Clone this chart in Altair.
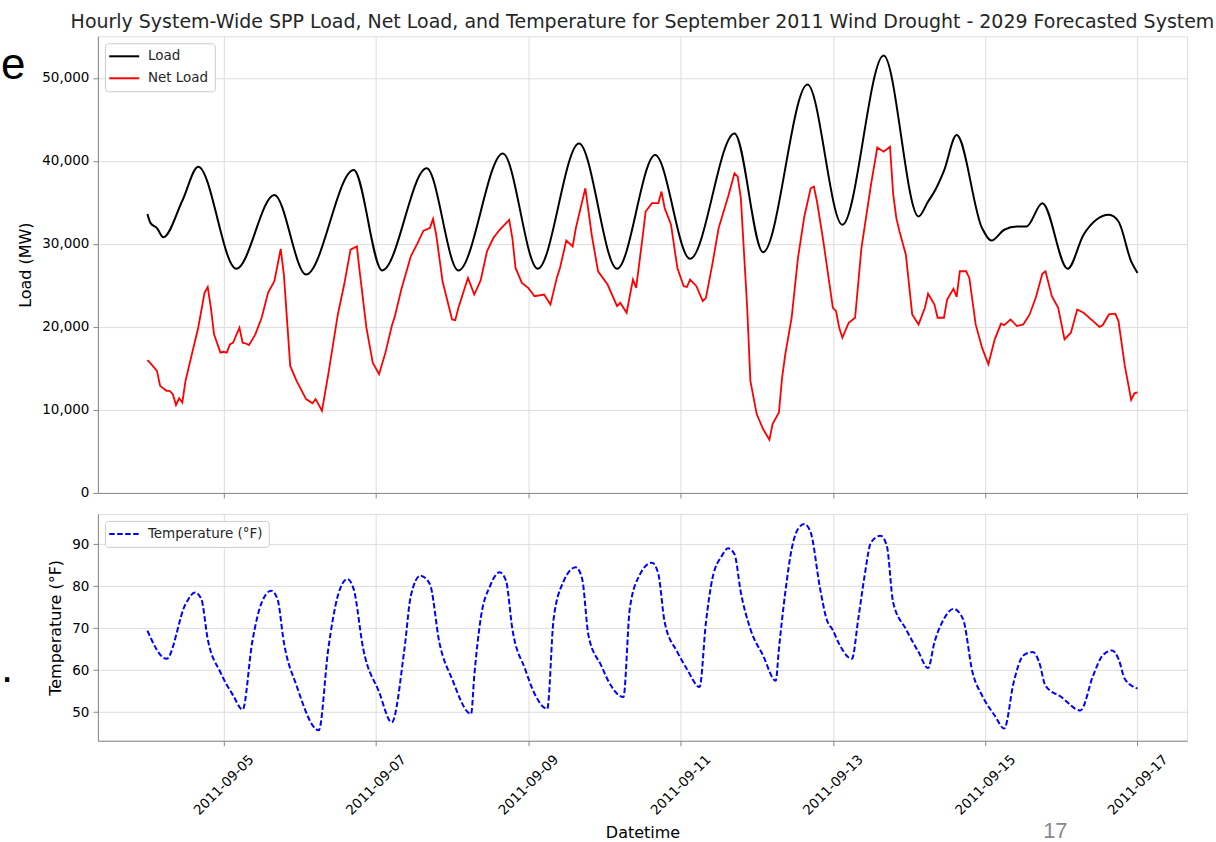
import altair as alt
import pandas as pd

START = pd.Timestamp("2011-09-04 00:00")

# Hourly readings: hours after 2011-09-04 00:00 and the value at that hour
load_hours = [0, 1, 3, 5, 11, 16, 28, 40, 50, 65, 74, 88, 98, 112, 123, 136, 148, 160,
              171, 185, 194, 208, 219, 232, 243, 246, 248, 251, 255, 263, 266, 270, 274,
              277, 282, 290, 295, 299, 303, 306, 310, 312]
load_mw = [33600, 32500, 31900, 30800, 35200, 39300, 27000, 35900, 26300, 38900, 26800,
           39100, 26800, 40900, 27000, 42100, 27000, 40700, 28200, 43300, 29000, 49200,
           32300, 52700, 33300, 35100, 36300, 38800, 43100, 31900, 30400, 31700, 32100,
           32100, 34900, 27000, 31100, 32900, 33500, 32700, 27900, 26500]

net_hours = [0, 1, 3, 4, 6, 7, 8, 9, 10, 11, 12, 14, 16, 18, 19, 20, 21, 23, 24, 25, 26,
             27, 29, 30, 31, 32, 34, 36, 38, 40, 42, 43, 45, 47, 50, 52, 53, 55, 57, 60,
             62, 64, 66, 67, 69, 71, 73, 75, 77, 78, 80, 83, 85, 87, 89, 90, 91, 93, 96,
             97, 98, 101, 103, 105, 107, 109, 111, 114, 115, 116, 118, 120, 122, 125, 127,
             129, 130, 132, 134, 135, 136, 138, 140, 142, 145, 148, 149, 151, 153, 154,
             156, 157, 159, 161, 162, 163, 165, 167, 169, 170, 171, 173, 175, 176, 178,
             180, 183, 185, 186, 187, 189, 190, 192, 194, 196, 197, 199, 200, 201, 203,
             205, 207, 209, 210, 211, 213, 216, 217, 218, 219, 221, 223, 225, 228, 230,
             232, 234, 235, 236, 237, 239, 241, 243, 245, 246, 248, 249, 251, 252, 254,
             255, 256, 258, 259, 261, 263, 265, 267, 269, 270, 272, 274, 276, 278, 280,
             282, 283, 285, 287, 289, 291, 293, 295, 298, 300, 301, 303, 305, 306, 308,
             310, 311, 312]
net_mw = [16000, 15600, 14700, 12900, 12300, 12300, 11900, 10600, 11400, 10900, 13500,
          16700, 19900, 24100, 24800, 22300, 19100, 16900, 17000, 16900, 17900, 18100,
          19900, 18100, 18000, 17800, 19100, 21100, 24100, 25500, 29400, 26300, 15300,
          13500, 11300, 10800, 11300, 9900, 14300, 21500, 25100, 29300, 29700, 26300,
          19900, 15700, 14300, 16900, 20100, 21300, 24500, 28500, 30000, 31600, 31900,
          33000, 31100, 25500, 20900, 20800, 22300, 25900, 23900, 25600, 29100, 30700,
          31700, 32900, 30700, 27100, 25300, 24700, 23700, 23900, 22700, 25900, 27100,
          30400, 29700, 31900, 33500, 36700, 31100, 26700, 25100, 22500, 22900, 21700,
          25700, 24700, 30700, 33900, 34900, 34900, 36300, 34300, 32300, 27100, 24900,
          24800, 25700, 24900, 23100, 23500, 27500, 31900, 35700, 38500, 38100, 35500,
          22300, 13500, 9500, 7700, 6400, 8300, 9700, 13900, 16700, 21100, 28300, 33300,
          36700, 36900, 35100, 30300, 22300, 21900, 19900, 18700, 20500, 21100, 29500,
          37100, 41600, 41100, 41700, 36000, 33100, 31500, 28700, 21500, 20300, 22300,
          24000, 22700, 21100, 21100, 23300, 24600, 23600, 26700, 26700, 25900, 20300,
          17500, 15500, 18500, 20400, 20200, 20900, 20100, 20300, 21500, 23600, 26400,
          26700, 23700, 22300, 18500, 19300, 22100, 21700, 20700, 20000, 20200, 21500,
          21600, 20700, 15300, 11200, 12000, 12100]

temp_hours = [0, 6, 12, 15, 17, 19, 23, 27, 30, 33, 36, 39, 41, 43, 47, 54, 57, 60, 63,
              65, 68, 73, 77, 81, 83, 86, 89, 92, 96, 102, 103, 105, 108, 111, 113, 115,
              119, 122, 126, 128, 131, 135, 137, 139, 143, 146, 150, 152, 155, 159, 161,
              163, 167, 170, 174, 176, 178, 181, 183, 185, 187, 190, 194, 198, 199, 201,
              203, 205, 207, 209, 212, 214, 216, 218, 222, 224, 226, 228, 231, 233, 235,
              239, 243, 246, 248, 251, 254, 257, 260, 263, 267, 270, 273, 276, 279, 281,
              283, 288, 294, 298, 301, 304, 306, 308, 312]
temp_f = [69.4, 62.7, 75.7, 78.5, 76.9, 67.4, 59.5, 54.0, 50.6, 66.6, 76.1, 78.9, 76.9,
          66.6, 56.3, 45.7, 65.1, 77.7, 81.7, 79.3, 65.1, 54.8, 47.6, 65.1, 77.7, 82.5,
          80.5, 66.6, 57.9, 49.6, 58.7, 72.2, 80.1, 83.3, 81.3, 69.8, 60.3, 54.4, 50.8,
          72.2, 80.9, 84.5, 81.7, 68.2, 61.1, 56.4, 53.6, 74.6, 82.5, 85.6, 82.9, 71.4,
          64.3, 60.3, 56.0, 71.4, 81.7, 87.2, 89.0, 87.6, 78.5, 69.8, 63.5, 57.5, 65.1,
          78.5, 88.8, 93.6, 94.8, 92.8, 79.3, 72.2, 69.5, 66.2, 62.7, 72.2, 82.5, 90.4,
          92.0, 89.6, 76.1, 69.8, 64.3, 60.5, 66.6, 72.2, 74.6, 72.2, 59.5, 54.0, 49.2,
          46.1, 57.2, 63.5, 64.3, 61.9, 56.3, 53.6, 50.4, 58.7, 63.5, 64.7, 62.7, 57.9,
          55.6]

load_ticks = [0, 10000, 20000, 30000, 40000, 50000]
temp_ticks = [50, 60, 70, 80, 90]
tick_days = [5, 7, 9, 11, 13, 15, 17]

TITLE = ("Hourly System-Wide SPP Load, Net Load, and Temperature for September 2011 "
         "Wind Drought - 2029 Forecasted System")

FONT = "DejaVu Sans"
INK = "#262626"
LEGEND_LINE = "M-1.45,0H3.55"


def series_frame(hours, values, name):
    return pd.DataFrame({
        "time": [(START + pd.Timedelta(hours=h)).strftime("%Y-%m-%dT%H:%M:%S") for h in hours],
        "value": values,
        "series": name,
    })


load_df = series_frame(load_hours, load_mw, "Load")
net_df = series_frame(net_hours, net_mw, "Net Load")
temp_df = series_frame(temp_hours, temp_f, "Temperature (°F)")

x_domain = [alt.DateTime(year=2011, month=9, date=3, hours=8, minutes=24),
            alt.DateTime(year=2011, month=9, date=17, hours=15, minutes=36)]
x_ticks = [alt.DateTime(year=2011, month=9, date=d) for d in tick_days]
x_scale = alt.Scale(domain=x_domain)


def legend(dash=None):
    opts = dict(title=None, orient="none", legendX=7, legendY=7, symbolType=LEGEND_LINE,
                symbolSize=144, symbolStrokeWidth=2, labelOffset=23, padding=6,
                rowPadding=8, strokeColor="#cccccc", fillColor="white", cornerRadius=3,
                labelFont=FONT, labelFontSize=13.5, labelColor=INK, labelLimit=300)
    if dash:
        opts["symbolDash"] = dash
    return alt.Legend(**opts)


def y_axis(values, fmt, title):
    return alt.Axis(values=values, format=fmt, title=title, labelFont=FONT,
                    labelFontSize=13.5, labelPadding=4, titleFont=FONT, titleFontSize=16,
                    titleFontWeight="normal", titlePadding=8, grid=True)


top_x = alt.X("time:T", scale=x_scale,
              axis=alt.Axis(values=x_ticks, labels=False, title=None, grid=True))
top_y = alt.Y("value:Q", scale=alt.Scale(domain=[0, 55000], nice=False, zero=False),
              axis=y_axis(load_ticks, ",.0f", "Load (MW)"))
top_color = alt.Color("series:N",
                      scale=alt.Scale(domain=["Load", "Net Load"], range=["#000000", "#ff0000"]),
                      legend=legend())

load_line = alt.Chart(load_df).mark_line(strokeWidth=2, interpolate="monotone").encode(
    x=top_x, y=top_y, color=top_color)
net_line = alt.Chart(net_df).mark_line(strokeWidth=1.8).encode(
    x=top_x, y=top_y, color=top_color)

slide_e = alt.Chart(pd.DataFrame({"s": ["e"]})).mark_text(
    font="Liberation Sans", fontSize=44, align="left", baseline="alphabetic", color="#000000"
).encode(text="s:N", x=alt.value(-97), y=alt.value(43))

top = alt.layer(load_line, net_line, slide_e).properties(
    width=1090, height=457,
    title=alt.TitleParams(TITLE, font=FONT, fontSize=19, fontWeight="normal", color=INK,
                          anchor="middle", frame="group", offset=4))

bottom_x = alt.X("time:T", scale=x_scale,
                 axis=alt.Axis(values=x_ticks, format="%Y-%m-%d", labelAngle=315,
                               labelAlign="center", labelBaseline="middle", labelPadding=39,
                               labelFont=FONT, labelFontSize=13.5, labelOverlap=False,
                               labelFlush=False, title="Datetime", titleFont=FONT,
                               titleFontSize=16, titleFontWeight="normal", titlePadding=8,
                               grid=True))
bottom_y = alt.Y("value:Q", scale=alt.Scale(domain=[43.2, 97.2], nice=False, zero=False),
                 axis=y_axis(temp_ticks, "d", "Temperature (°F)"))
temp_color = alt.Color("series:N",
                       scale=alt.Scale(domain=["Temperature (°F)"], range=["#0000ff"]),
                       legend=legend(dash=[5.5, 2.5]))

temp_line = alt.Chart(temp_df).mark_line(
    strokeWidth=2, strokeDash=[5.5, 2.5], interpolate="monotone"
).encode(x=bottom_x, y=bottom_y, color=temp_color)

slide_dot = alt.Chart(pd.DataFrame({"s": ["."]})).mark_text(
    font="Liberation Sans", fontSize=44, align="left", baseline="alphabetic", color="#000000"
).encode(text="s:N", x=alt.value(-97), y=alt.value(168))

page_no = alt.Chart(pd.DataFrame({"s": ["17"]})).mark_text(
    font="Liberation Sans", fontSize=22, align="left", baseline="alphabetic", color="#8a8a8a"
).encode(text="s:N", x=alt.value(946), y=alt.value(324))

bottom = alt.layer(temp_line, slide_dot, page_no).properties(width=1090, height=227)

chart = alt.vconcat(top, bottom, spacing=13).resolve_scale(
    color="independent"
).resolve_legend(
    color="independent"
).properties(
    padding={"left": 0, "top": 12, "right": 0, "bottom": 0}
).configure_view(
    stroke="#444444", strokeWidth=1.2
).configure_axis(
    domain=False, gridColor="#bababa", gridWidth=1.3, tickColor="#444444", tickSize=5,
    tickWidth=1, labelColor=INK, titleColor=INK
).configure(background="white")

chart.save("out.html", embed_options={"renderer": "svg", "actions": False})
